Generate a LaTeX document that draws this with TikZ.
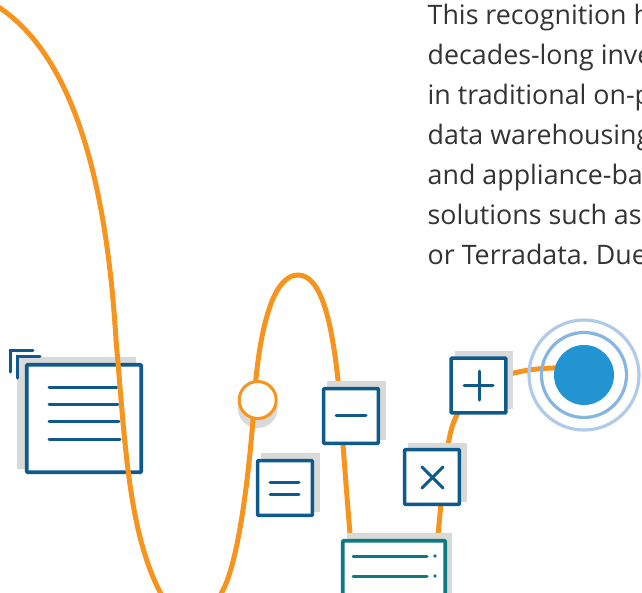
\documentclass[tikz,border=0pt]{standalone}
\usepackage{fontspec}
\setmainfont{Open Sans}
\definecolor{flow}{HTML}{F7941D}
\definecolor{navy}{HTML}{0F5A8C}
\definecolor{tealc}{HTML}{0C7A80}
\definecolor{greyc}{HTML}{D9D9D7}
\definecolor{core}{HTML}{2394D2}
\definecolor{ringa}{HTML}{85B5E0}
\definecolor{ringb}{HTML}{AFCBE9}
\definecolor{ink}{HTML}{333333}
\tikzset{
 x=1pt,y=-1pt,
 flowline/.style={draw=flow,line width=5pt},
 iconbox/.style={draw=navy,line width=3.6pt,fill=white,rounded corners=1pt,inner sep=0pt,outer sep=0pt,minimum size=54.8pt},
 shadowbox/.style={fill=greyc,draw=none,inner sep=0pt,outer sep=0pt,minimum size=58.5pt},
 glyph/.style={draw=navy,line width=3pt,line cap=round},
 tglyph/.style={draw=tealc,line width=3pt,line cap=round},
 bodytext/.style={anchor=base west,inner sep=0pt,text=ink,font=\fontsize{26.8}{26.8}\selectfont},
}
\begin{document}
\begin{tikzpicture}
\useasboundingbox (0,0) rectangle (642,592);
\clip (0,0) rectangle (642,592);
\frenchspacing
% text
\node[bodytext] (t1) at (427.5,24) {This recognition h};
\node[bodytext] (t2) at (427.5,64) {decades-long inve};
\node[bodytext] (t3) at (427.5,104) {in traditional on-p};
\node[bodytext] (t4) at (427.5,144) {data warehousing};
\node[bodytext] (t5) at (427.5,184) {and appliance-ba};
\node[bodytext] (t6) at (427.5,224) {solutions such as};
\node[bodytext] (t7) at (427.5,264) {or Terradata. Due};
% shadows first
\node[circle,fill=greyc,inner sep=0pt,minimum size=40pt] (sc) at (257.7,408) {};
\fill[greyc] (17,357) rectangle (136,469);
% document icon
\node[draw=navy,line width=3.6pt,fill=white,rounded corners=1pt,inner sep=0pt,outer sep=0pt,minimum width=114.5pt,minimum height=107.5pt] (doc) at (84,418.5) {};
\foreach \yy/\xe in {387/117,404/118,421/119,439/120}{\draw[glyph] (49,\yy) -- (\xe,\yy);}
\draw[glyph] (10.3,372) -- (10.3,350) -- (33,350);
\draw[glyph] (17.3,378) -- (17.3,356.5) -- (40,356.5);
% flow
\coordinate (cc) at (257.7,400);
\coordinate (src) at (584,375);
\coordinate (feed) at (570,368);
\coordinate (start) at (-8,3);
\coordinate (tb) at (351,545);
\coordinate (ta) at (437,545);
\draw[flowline] (start) .. controls (76,52) and (107,190) .. (116,340)
  .. controls (125,440) and (128,530) .. (160,592)
  .. controls (175,622) and (207,622) .. (222,592)
  .. controls (240,560) and (251,460) .. (256,378)
  .. controls (262,320) and (275,275) .. (298,275)
  .. controls (322,275) and (332,325) .. (338,380)
  .. controls (342,430) and (347,500) .. (tb);
\draw[flowline] (ta) .. controls (441,505) and (444,465) .. (449,440)
  .. controls (458,385) and (505,366) .. (feed);
% other shadows
\node[shadowbox] (s1) at (356.5,410.5) {};
\node[shadowbox] (s2) at (290.5,482.5) {};
\node[shadowbox] (s3) at (437.5,472.5) {};
\node[shadowbox] (s4) at (484,380) {};
\fill[greyc] (347,533) rectangle (452,600);
% junction
\node[circle,draw=flow,line width=3pt,fill=white,inner sep=0pt,outer sep=0pt,minimum size=37pt] (junction) at (cc) {};
% icons
\node[iconbox] (minusbox) at (351,416) {};
\draw[glyph] (336,415.5) -- (366,415.5);
\node[iconbox] (equalbox) at (285,488) {};
\draw[glyph] (270,482) -- (299,482);
\draw[glyph] (270,494) -- (299,494);
\node[iconbox] (timesbox) at (432,477) {};
\draw[glyph] (422,467) -- (443,488);
\draw[glyph] (422,488) -- (443,467);
\node[iconbox] (plusbox) at (478.5,385.5) {};
\draw[glyph] (464,385) -- (493,385);
\draw[glyph] (479,371) -- (479,400);
\node[draw=tealc,line width=3.6pt,fill=white,rounded corners=1pt,inner sep=0pt,outer sep=0pt,minimum width=102.5pt,minimum height=80pt] (store) at (394,580.75) {};
\draw[tglyph] (353,556) -- (427,556);
\draw[tglyph] (353,576) -- (427,576);
\fill[tealc] (435,556) circle (1.8);
\fill[tealc] (435,576) circle (1.8);
% source
\node[circle,fill=core,inner sep=0pt,minimum size=60pt] (coredot) at (src) {};
\node[circle,draw=ringa,line width=3.2pt,inner sep=0pt,minimum size=85pt] (ring1) at (src) {};
\node[circle,draw=ringb,line width=3.2pt,inner sep=0pt,minimum size=110pt] (ring2) at (src) {};
\end{tikzpicture}
\end{document}
